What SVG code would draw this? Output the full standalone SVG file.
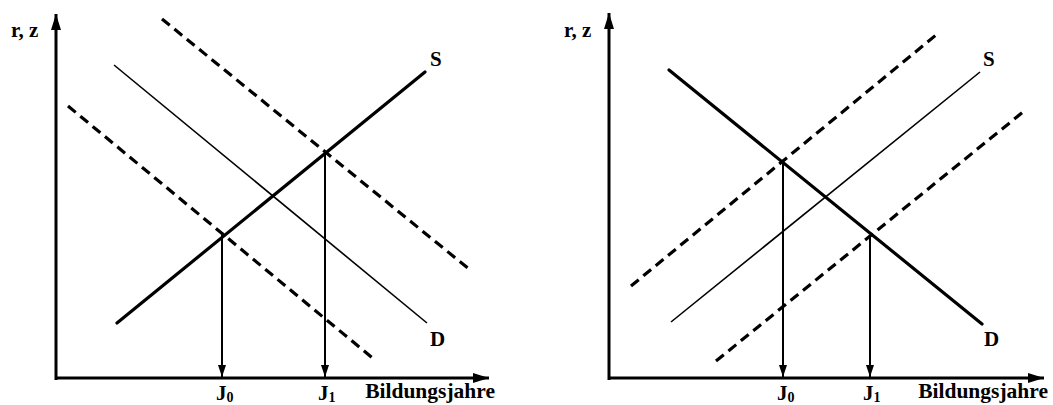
<svg xmlns="http://www.w3.org/2000/svg" width="1053" height="405" viewBox="0 0 1053 405">
<style>
.ax{stroke:#000;stroke-width:3;fill:none}
.thick{stroke:#000;stroke-width:3.2;fill:none;stroke-linecap:round}
.thin{stroke:#000;stroke-width:1.6;fill:none}
.dash{stroke:#000;stroke-width:3.2;fill:none;stroke-dasharray:10 6}
.vl{stroke:#000;stroke-width:2;fill:none}
.lbl{font-family:"Liberation Serif",serif;font-weight:bold;font-size:21px;fill:#000}
.ax-t{font-size:21.5px;text-anchor:end}
.sub{font-size:14px}
</style>
<defs>
<marker id="axh" markerUnits="userSpaceOnUse" viewBox="0 0 16 10" refX="16" refY="5" markerWidth="16" markerHeight="10" orient="auto"><path d="M0,0 L16,5 L0,10 Z" fill="#000"/></marker>
<marker id="vh" markerUnits="userSpaceOnUse" viewBox="0 0 12 8" refX="12" refY="4" markerWidth="12" markerHeight="8" orient="auto"><path d="M0,0 L12,4 L0,8 Z" fill="#000"/></marker>
</defs>
<g id="left-panel">
<g id="left-axes">
<line class="ax" x1="56" y1="380" x2="56" y2="14" marker-end="url(#axh)"/>
<line class="ax" x1="55" y1="378" x2="489" y2="378" marker-end="url(#axh)"/>
<text class="lbl" x="11" y="37">r, z</text>
<text class="lbl ax-t" x="495" y="398">Bildungsjahre</text>
</g>
<g id="left-S"><line class="thick" x1="117" y1="323" x2="425" y2="72"/><text class="lbl" x="430" y="66">S</text></g>
<g id="left-D"><line class="thin" x1="114" y1="65" x2="427" y2="323"/><text class="lbl" x="430" y="346">D</text></g>
<g id="left-D-upper"><line class="dash" x1="162" y1="19" x2="469" y2="269"/></g>
<g id="left-D-lower"><line class="dash" x1="68" y1="106" x2="375" y2="360"/></g>
<g id="left-J0"><text class="lbl" x="216" y="400">J<tspan class="sub" dy="2">0</tspan></text></g>
<g id="left-J1"><text class="lbl" x="318" y="400">J<tspan class="sub" dy="2">1</tspan></text></g>
</g>
<g id="right-panel">
<g id="right-axes">
<line class="ax" x1="609" y1="380" x2="609" y2="13" marker-end="url(#axh)"/>
<line class="ax" x1="608" y1="378" x2="1044" y2="378" marker-end="url(#axh)"/>
<text class="lbl" x="564" y="37">r, z</text>
<text class="lbl ax-t" x="1048" y="398">Bildungsjahre</text>
</g>
<g id="right-D"><line class="thick" x1="669" y1="70" x2="982" y2="324"/><text class="lbl" x="984" y="346">D</text></g>
<g id="right-S"><line class="thin" x1="671" y1="322" x2="980" y2="72"/><text class="lbl" x="983" y="66">S</text></g>
<g id="right-S-upper"><line class="dash" x1="631" y1="286" x2="936" y2="35"/></g>
<g id="right-S-lower"><line class="dash" x1="716" y1="361" x2="1023" y2="112"/></g>
<g id="right-J0"><text class="lbl" x="777" y="400">J<tspan class="sub" dy="2">0</tspan></text></g>
<g id="right-J1"><text class="lbl" x="863" y="400">J<tspan class="sub" dy="2">1</tspan></text></g>
</g>
<g id="connectors">
<line class="vl" x1="222" y1="235" x2="222" y2="377" marker-end="url(#vh)"/>
<line class="vl" x1="325" y1="152" x2="325" y2="377" marker-end="url(#vh)"/>
<line class="vl" x1="783" y1="162" x2="783" y2="377" marker-end="url(#vh)"/>
<line class="vl" x1="870" y1="236" x2="870" y2="377" marker-end="url(#vh)"/>
</g>
</svg>
